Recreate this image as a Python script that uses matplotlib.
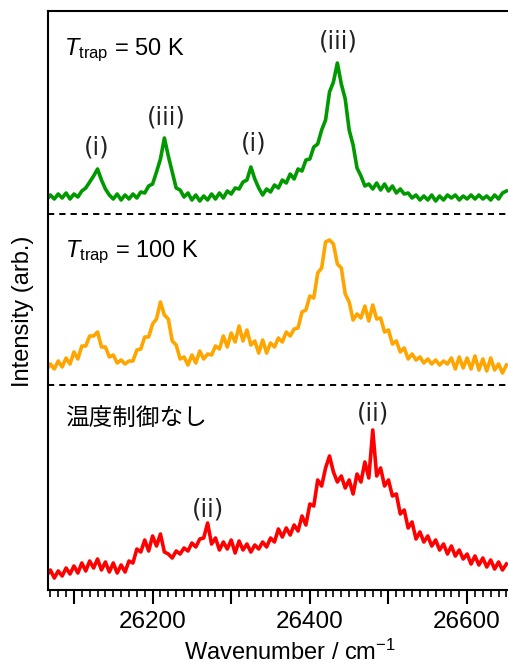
import numpy as np
import matplotlib
matplotlib.use("Agg")
import matplotlib.pyplot as plt
from matplotlib.ticker import MultipleLocator, FuncFormatter

# wavenumber grid (cm-1), 5 cm-1 steps
wn = np.arange(26065, 26651, 5)

# intensities, each above its own baseline
green_50K = [
    0, 5, 1, 6, 2, 7, 1, 6, 3, 9,
    12, 18, 24, 31, 20, 11, 5, 1, 6, 0,
    5, 1, 6, 2, 8, 7, 14, 16, 28, 41,
    62, 44, 28, 12, 10, 3, 7, 0, 5, -1,
    4, 0, 6, 1, 7, 2, 9, 6, 12, 11,
    18, 20, 33, 21, 12, 5, 11, 8, 15, 12,
    20, 17, 26, 21, 31, 29, 40, 41, 53, 56,
    70, 80, 108, 118, 137, 116, 101, 70, 55, 32,
    24, 14, 16, 11, 17, 10, 16, 9, 14, 7,
    11, 6, 7, 2, 5, 0, 4, 0, 5, -1,
    4, 0, 5, 2, 5, 0, 4, 1, 5, 1,
    5, 1, 4, 0, 5, 1, 7, 9,
]
orange_100K = [
    2, 8, 3, 11, 5, 14, 8, 20, 13, 26,
    26, 36, 36, 40, 25, 25, 15, 17, 9, 12,
    8, 11, 11, 22, 23, 35, 35, 48, 53, 70,
    57, 53, 31, 27, 13, 15, 7, 17, 9, 21,
    13, 18, 17, 26, 23, 36, 25, 39, 30, 46,
    31, 42, 27, 31, 19, 32, 19, 29, 25, 34,
    30, 40, 36, 43, 44, 60, 62, 76, 74, 99,
    104, 130, 132, 128, 108, 104, 78, 70, 52, 58,
    54, 66, 51, 67, 53, 54, 40, 42, 28, 31,
    20, 24, 13, 18, 12, 15, 9, 13, 8, 12,
    7, 11, 8, 14, 3, 15, 4, 14, 3, 16,
    2, 13, 1, 14, 2, 8, -1, 7,
]
red_nocontrol = [
    2, 8, 0, 7, 2, 10, 4, 12, 5, 15,
    7, 17, 10, 19, 8, 16, 6, 15, 5, 13,
    6, 17, 15, 29, 26, 38, 27, 42, 32, 44,
    26, 24, 20, 27, 24, 30, 27, 35, 31, 39,
    40, 55, 34, 40, 28, 36, 29, 38, 25, 37,
    28, 34, 26, 33, 29, 36, 31, 40, 36, 49,
    41, 50, 43, 53, 47, 62, 53, 74, 72, 98,
    92, 110, 122, 106, 96, 102, 90, 98, 84, 104,
    96, 116, 100, 148, 102, 110, 92, 98, 82, 84,
    64, 68, 50, 56, 39, 46, 36, 42, 32, 38,
    28, 34, 24, 32, 22, 28, 19, 24, 14, 22,
    13, 20, 11, 18, 9, 16, 8, 14,
]

series_colors = ["#009a00", "#ffa500", "#ff0000"]
series_offsets = [390, 218, 12]
separators = [376, 205]

panel_titles = [r"$T_{\mathrm{trap}}$ = 50 K", r"$T_{\mathrm{trap}}$ = 100 K", "温度制御なし"]
peak_labels = ["(i)", "(iii)", "(i)", "(iii)", "(ii)", "(ii)"]
peak_wn = [26129, 26218, 26328, 26436, 26271, 26480]
peak_y = [442, 472, 447, 548, 80, 176]

plt.rcParams["font.family"] = ["Liberation Sans", "Noto Sans CJK JP"]
plt.rcParams["mathtext.fontset"] = "custom"
plt.rcParams["mathtext.rm"] = "Liberation Sans"
plt.rcParams["mathtext.it"] = "Liberation Sans:italic"

fig = plt.figure(figsize=(5.08, 6.64), dpi=100)
ax = fig.add_axes([48 / 508, 74 / 664, 460 / 508, 579 / 664])

for vals, col, off in zip([green_50K, orange_100K, red_nocontrol], series_colors, series_offsets):
    ax.plot(wn, np.array(vals) + off, color=col, lw=2.6)

for yy in separators:
    ax.axhline(yy, color="black", lw=1.4, ls=(0, (3.2, 2.6)))

ax.set_xlim(26067, 26652)
ax.set_ylim(0, 579)

ax.text(26087, 535, panel_titles[0], fontsize=17, va="baseline")
ax.text(26088, 333, panel_titles[1], fontsize=17, va="baseline")
ax.text(26089, 172, panel_titles[2], fontsize=17, va="center",
        family=["Noto Sans CJK JP", "DejaVu Sans"])

for lab, xw, yv in zip(peak_labels, peak_wn, peak_y):
    ax.text(xw, yv, lab, fontsize=17.5, ha="center", va="center", family="DejaVu Sans",
            color="#222222")

for s in ["left", "top", "bottom"]:
    ax.spines[s].set_linewidth(1.5)
ax.spines["right"].set_visible(False)

ax.set_yticks([])
ax.xaxis.set_major_locator(MultipleLocator(100))
ax.xaxis.set_minor_locator(MultipleLocator(10))
ax.xaxis.set_major_formatter(FuncFormatter(lambda v, p: f"{int(v)}" if int(round(v)) % 200 == 0 else ""))
ax.tick_params(axis="x", which="major", direction="out", length=10, width=1.5, labelsize=17.5, pad=5)
ax.tick_params(axis="x", which="minor", direction="out", length=5, width=1.2)

fig.text(290 / 508, 1 - 652 / 664, r"Wavenumber / cm$^{-1}$", fontsize=17, ha="center", va="center")
fig.text(23 / 508, 1 - 311 / 664, "Intensity (arb.)", fontsize=17, ha="center", va="center",
         rotation=90)

fig.savefig("out.png", dpi=100)
